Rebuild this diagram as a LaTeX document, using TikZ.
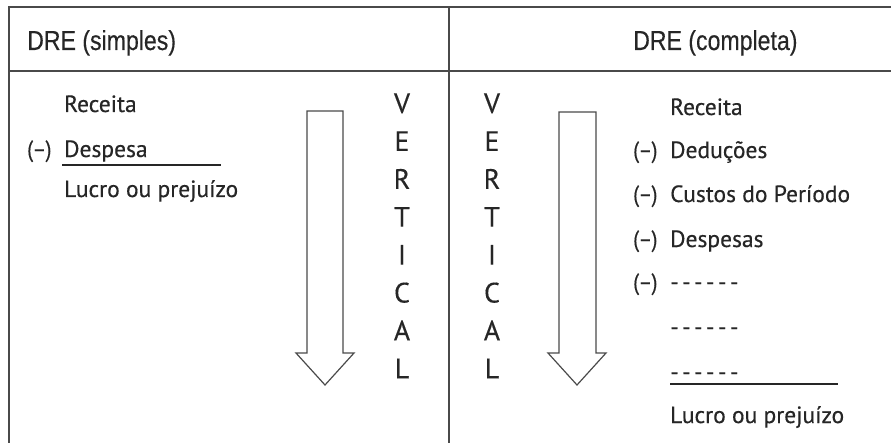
\documentclass[tikz,border=0pt]{standalone}
\usepackage{fontspec}
\setmainfont[FakeBold=0.4]{PT Sans}
\newfontfamily\minusfont[FakeStretch=0.9,FakeBold=0.4]{PT Sans}
\newfontfamily\vfont[FakeBold=0.3]{PT Sans}
\newfontfamily\hdrfont[FakeStretch=0.84,FakeBold=0.3]{Liberation Sans}
\definecolor{ink}{HTML}{262626}
\definecolor{rulec}{HTML}{4a4a4a}
\newcommand{\sixdash}{-\kern3.5pt-\kern3.5pt-\kern3.5pt-\kern3.5pt-\kern3.5pt-}
\tikzset{
  body/.style={anchor=base west, inner sep=0pt, text=ink, font=\fontsize{23.5}{27}\selectfont},
  minus/.style={anchor=base west, inner sep=0pt, text=ink, font=\minusfont\fontsize{23.5}{27}\selectfont},
  hdr/.style={anchor=base west, inner sep=0pt, text=ink, font=\hdrfont\fontsize{27.5}{31}\selectfont},
  vletter/.style={anchor=base, inner sep=0pt, text=ink, font=\vfont\fontsize{28}{31}\selectfont},
  tablerule/.style={draw=rulec, line width=1.8pt},
  bigarrow/.style={draw=rulec, line width=1.2pt, fill=white, line join=miter},
  sumrule/.style={draw=ink, line width=1.3pt}
}
\begin{document}
\begin{tikzpicture}[x=1pt,y=-1pt]
\useasboundingbox (0,0) rectangle (891,443);
\fill[white] (0,0) rectangle (891,443);
% table
\coordinate (tl) at (9,7);
\coordinate (tr) at (893,7);
\coordinate (hl) at (9,71);
\coordinate (hr) at (893,71);
\coordinate (bl) at (9,445);
\coordinate (mt) at (449,7);
\coordinate (mb) at (449,445);
\draw[tablerule] (tr) -- (tl) -- (bl);
\draw[tablerule] (hl) -- (hr);
\draw[tablerule] (mt) -- (mb);
% headers
\node[hdr] (h1) at (27,50) {DRE (simples)};
\node[hdr] (h2) at (633,50) {DRE (completa)};
% left column
\node[body] (l1) at (64,112) {Receita};
\node[minus] (l2m) at (27,157) {(–)};
\node[body] (l2) at (64,157) {Despesa};
\coordinate (lu1) at (62,165);
\coordinate (lu2) at (221,165);
\draw[sumrule] (lu1) -- (lu2);
\node[body] (l3) at (64,197) {Lucro ou prejuízo};
% left arrow
\draw[bigarrow] (307,111) -- (343,111) -- (343,353) -- (354,353) -- (325,385) -- (296,353) -- (307,353) -- cycle;
% VERTICAL letters
\foreach \ch [count=\i from 0] in {V,E,R,T,I,C,A,L} {
  \node[vletter] (va\i) at (402,{113+37.9*\i}) {\ch};
  \node[vletter] (vb\i) at (492,{113+37.9*\i}) {\ch};
}
% right arrow
\draw[bigarrow] (559,112) -- (596,112) -- (596,353) -- (606,353) -- (577,385) -- (548,353) -- (559,353) -- cycle;
% right column
\node[body] (r1) at (670,115) {Receita};
\node[minus] (r2m) at (633,158) {(–)};
\node[body] (r2) at (670,158) {Deduções};
\node[minus] (r3m) at (633,202) {(–)};
\node[body] (r3) at (670,202) {Custos do Período};
\node[minus] (r4m) at (633,247) {(–)};
\node[body] (r4) at (670,247) {Despesas};
\node[minus] (r5m) at (633,290) {(–)};
\node[body] (r5) at (670,290) {\sixdash};
\node[body] (r6) at (670,335) {\sixdash};
\node[body] (r7) at (670,380) {\sixdash};
\coordinate (ru1) at (670,384);
\coordinate (ru2) at (838,384);
\draw[sumrule] (ru1) -- (ru2);
\node[body] (r8) at (670,423) {Lucro ou prejuízo};
\end{tikzpicture}
\end{document}
